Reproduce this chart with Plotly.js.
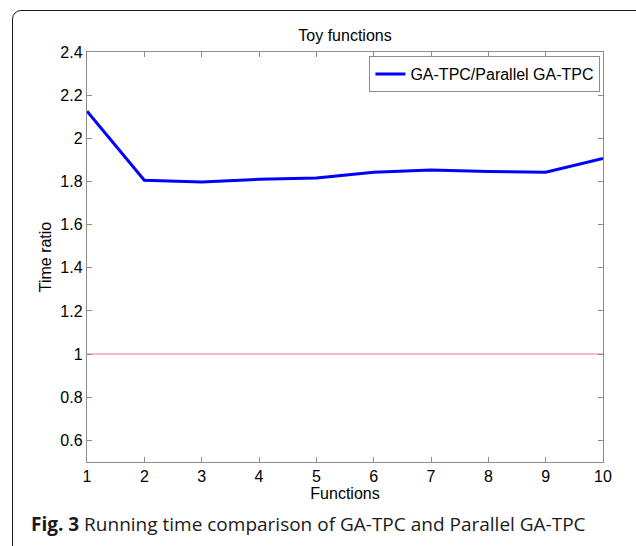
<!DOCTYPE html>
<html>
<head>
<meta charset="utf-8">
<script src="https://cdn.plot.ly/plotly-3.0.1.min.js"></script>
<style>
  html, body { margin: 0; padding: 0; background: #fff; overflow: hidden; }
  #frame { position: absolute; left: 12px; top: 10px; width: 700px; height: 620px;
           border: 1.5px solid #1a1a1a; border-top-left-radius: 9px; box-sizing: border-box; }
  #chart { position: absolute; left: 0; top: 0; width: 636px; height: 546px; }
</style>
</head>
<body>
<div id="frame"></div>
<div id="chart"></div>
<script>
const functions = [1, 2, 3, 4, 5, 6, 7, 8, 9, 10];
const timeRatio = [2.126, 1.806, 1.798, 1.81, 1.816, 1.843, 1.853, 1.846, 1.843, 1.907];
const refX = [1, 10];
const refY = [1, 1];
const seriesName = 'GA-TPC/Parallel GA-TPC';
const yTicks = [0.6, 0.8, 1, 1.2, 1.4, 1.6, 1.8, 2, 2.2, 2.4];
const yTickText = ['0.6', '0.8', '1', '1.2', '1.4', '1.6', '1.8', '2', '2.2', '2.4'];

const axisFont = { family: 'Liberation Sans, Arial, sans-serif', size: 16, color: '#000' };

const traces = [
  {
    x: refX, y: refY, mode: 'lines', showlegend: false, hoverinfo: 'skip',
    line: { color: 'rgba(215,90,105,0.4)', width: 2 }
  },
  {
    x: functions, y: timeRatio, mode: 'lines', name: seriesName,
    line: { color: '#0000ff', width: 3 }
  }
];

const layout = {
  width: 636, height: 546,
  margin: { l: 87, r: 33, t: 52, b: 84 },
  paper_bgcolor: 'rgba(0,0,0,0)',
  plot_bgcolor: '#fff',
  title: { text: 'Toy functions', font: { family: 'Liberation Sans, Arial, sans-serif', size: 16, color: '#000' },
           x: 0.5, xanchor: 'center', y: 1 - 35/546, yanchor: 'middle', xref: 'paper' },
  xaxis: {
    range: [1, 10], tickvals: functions, ticktext: functions.map(String),
    ticks: 'inside', ticklen: 5, tickcolor: '#8c8c8c', mirror: 'ticks',
    showline: true, linecolor: '#8c8c8c', linewidth: 1.2, showgrid: false, zeroline: false,
    tickfont: axisFont,
    title: { text: 'Functions', font: axisFont, standoff: 2 }
  },
  yaxis: {
    range: [0.5, 2.4], tickvals: yTicks, ticktext: yTickText,
    ticks: 'inside', ticklen: 5, tickcolor: '#8c8c8c', mirror: 'ticks',
    showline: true, linecolor: '#8c8c8c', linewidth: 1.2, showgrid: false, zeroline: false,
    tickfont: axisFont,
    title: { text: 'Time ratio', font: axisFont, standoff: 4 }
  },
  legend: {
    x: 0.995, xanchor: 'right', y: 0.99, yanchor: 'top',
    bgcolor: '#fff', bordercolor: '#8c8c8c', borderwidth: 1,
    font: { family: 'Liberation Sans, Arial, sans-serif', size: 16, color: '#000' },
    itemwidth: 30
  },
  annotations: [{
    text: '<b>Fig. 3</b> Running time comparison of GA-TPC and Parallel GA-TPC',
    xref: 'paper', yref: 'paper', x: -(87-29)/516, xanchor: 'left',
    y: -(524-462)/410, yanchor: 'middle', showarrow: false,
    font: { family: 'Open Sans, Noto Sans, sans-serif', size: 19, color: '#1a1a1a' }
  }]
};

Plotly.newPlot('chart', traces, layout, { displayModeBar: false, staticPlot: true });
</script>
</body>
</html>
